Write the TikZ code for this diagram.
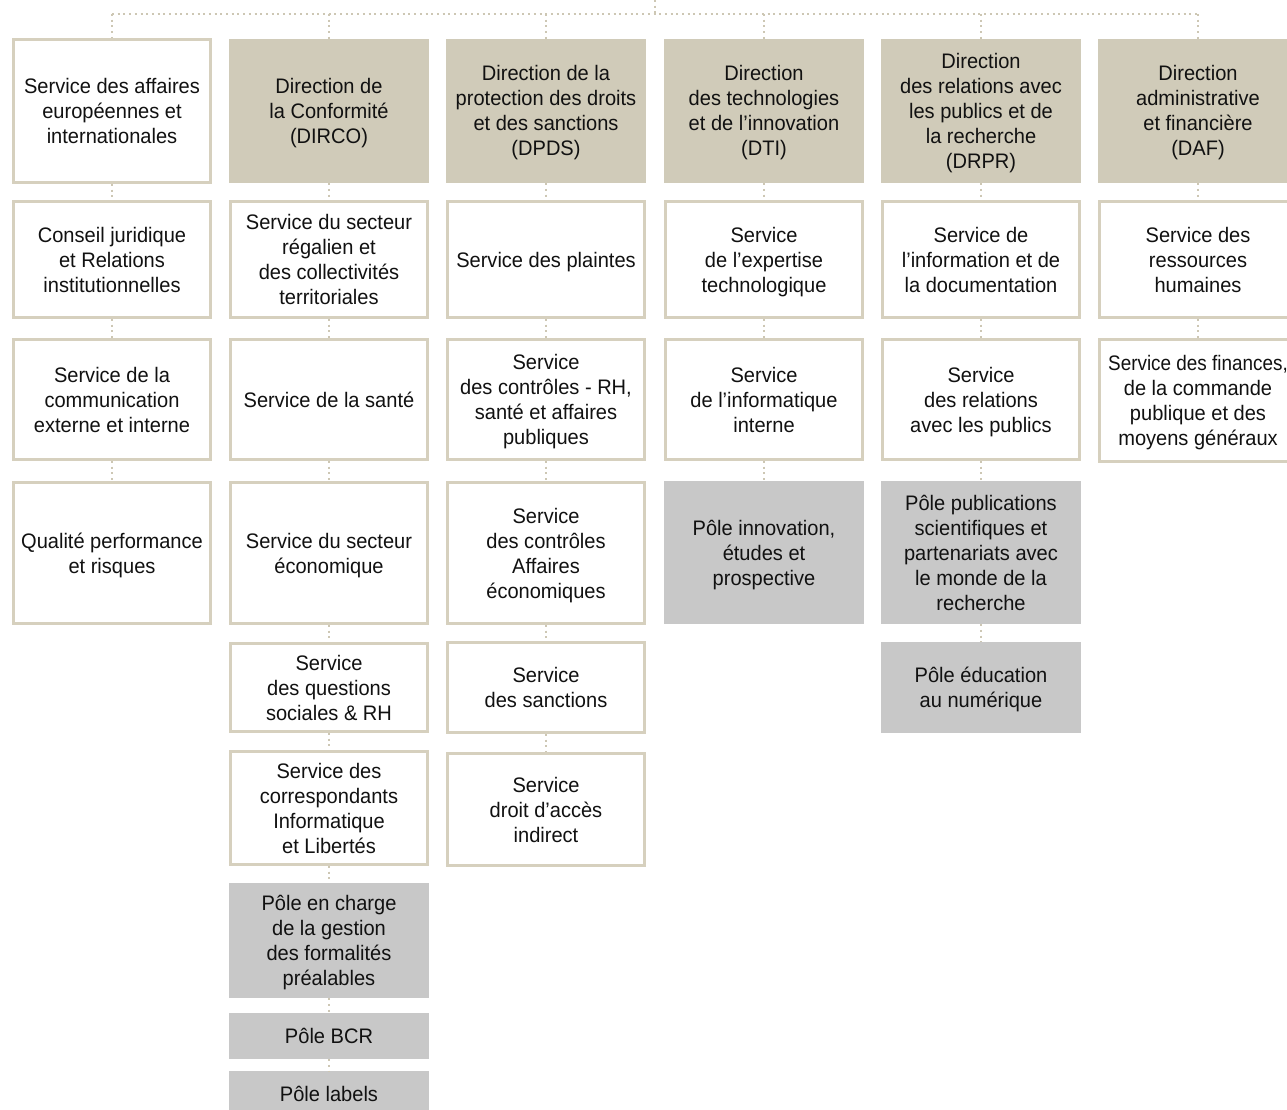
\documentclass[tikz,border=0pt]{standalone}
\usepackage{fontspec}
\setmainfont{Liberation Sans}[FakeStretch=0.955]
\newfontfamily\narrowfont{Liberation Sans}[FakeStretch=0.9]
\definecolor{beigeline}{RGB}{214,208,190}
\definecolor{beigefill}{RGB}{208,203,185}
\definecolor{grayfill}{RGB}{200,200,200}
\definecolor{dotc}{RGB}{205,199,180}
\definecolor{txt}{RGB}{17,17,17}
\newcommand{\tx}[1]{\raisebox{-2.5pt}[\height][\depth]{\begin{tabular}{@{}c@{}}#1\end{tabular}}}
\tikzset{
  base/.style={inner sep=0pt, align=center, text=txt, font=\fontsize{21}{25}\selectfont},
  wbox/.style={base, draw=beigeline, line width=3pt, fill=white},
  dbox/.style={base, fill=beigefill},
  gbox/.style={base, fill=grayfill},
  dotline/.style={draw=dotc, line width=2pt, dash pattern=on 2pt off 3.7pt},
}
\begin{document}
\begin{tikzpicture}[x=1pt,y=-1pt]
\path[use as bounding box, clip] (0,0) rectangle (1287,1110);
\fill[white] (0,0) rectangle (1287,1110);
% column 1
\node[wbox, minimum width=197, minimum height=143] (c1a) at (112,111) {\tx{Service des affaires\\européennes et\\internationales}};
\node[wbox, minimum width=197, minimum height=116] (c1b) at (112,259.5) {\tx{Conseil juridique\\et Relations\\institutionnelles}};
\node[wbox, minimum width=197, minimum height=120] (c1c) at (112,399.5) {\tx{Service de la\\communication\\externe et interne}};
\node[wbox, minimum width=197, minimum height=141] (c1d) at (112,553) {\tx{Qualité performance\\et risques}};
% column 2
\node[dbox, minimum width=200, minimum height=144] (c2a) at (329,111) {\tx{Direction de\\la Conformité\\(DIRCO)}};
\node[wbox, minimum width=197, minimum height=116] (c2b) at (329,259.5) {\tx{Service du secteur\\régalien et\\des collectivités\\territoriales}};
\node[wbox, minimum width=197, minimum height=120] (c2c) at (329,399.5) {\tx{Service de la santé}};
\node[wbox, minimum width=197, minimum height=141] (c2d) at (329,553) {\tx{Service du secteur\\économique}};
\node[wbox, minimum width=197, minimum height=88] (c2e) at (329,687.5) {\tx{Service\\des questions\\sociales \& RH}};
\node[wbox, minimum width=197, minimum height=113] (c2f) at (329,808) {\tx{Service des\\correspondants\\Informatique\\et Libertés}};
\node[gbox, minimum width=200, minimum height=115] (c2g) at (329,940.5) {\tx{Pôle en charge\\de la gestion\\des formalités\\préalables}};
\node[gbox, minimum width=200, minimum height=46] (c2h) at (329,1036) {\tx{Pôle BCR}};
\node[gbox, minimum width=200, minimum height=46] (c2i) at (329,1094) {\tx{Pôle labels}};
% column 3
\node[dbox, minimum width=200, minimum height=144] (c3a) at (546,111) {\tx{Direction de la\\protection des droits\\et des sanctions\\(DPDS)}};
\node[wbox, minimum width=197, minimum height=116] (c3b) at (546,259.5) {\tx{Service des plaintes}};
\node[wbox, minimum width=197, minimum height=120] (c3c) at (546,399.5) {\tx{Service\\des contrôles - RH,\\santé et affaires\\publiques}};
\node[wbox, minimum width=197, minimum height=141] (c3d) at (546,553) {\tx{Service\\des contrôles\\Affaires\\économiques}};
\node[wbox, minimum width=197, minimum height=90] (c3e) at (546,687.5) {\tx{Service\\des sanctions}};
\node[wbox, minimum width=197, minimum height=112] (c3f) at (546,809.5) {\tx{Service\\droit d’accès\\indirect}};
% column 4
\node[dbox, minimum width=200, minimum height=144] (c4a) at (764,111) {\tx{Direction\\des technologies\\et de l’innovation\\(DTI)}};
\node[wbox, minimum width=197, minimum height=116] (c4b) at (764,259.5) {\tx{Service\\de l’expertise\\technologique}};
\node[wbox, minimum width=197, minimum height=120] (c4c) at (764,399.5) {\tx{Service\\de l’informatique\\interne}};
\node[gbox, minimum width=200, minimum height=143] (c4d) at (764,552.5) {\tx{Pôle innovation,\\études et\\prospective}};
% column 5
\node[dbox, minimum width=200, minimum height=144] (c5a) at (981,111) {\tx{Direction\\des relations avec\\les publics et de\\la recherche\\(DRPR)}};
\node[wbox, minimum width=197, minimum height=116] (c5b) at (981,259.5) {\tx{Service de\\l’information et de\\la documentation}};
\node[wbox, minimum width=197, minimum height=120] (c5c) at (981,399.5) {\tx{Service\\des relations\\avec les publics}};
\node[gbox, minimum width=200, minimum height=143] (c5d) at (981,552.5) {\tx{Pôle publications\\scientifiques et\\partenariats avec\\le monde de la\\recherche}};
\node[gbox, minimum width=200, minimum height=91] (c5e) at (981,687.5) {\tx{Pôle éducation\\au numérique}};
% column 6
\node[dbox, minimum width=200, minimum height=144] (c6a) at (1198,111) {\tx{Direction\\administrative\\et financière\\(DAF)}};
\node[wbox, minimum width=197, minimum height=116] (c6b) at (1198,259.5) {\tx{Service des\\ressources\\humaines}};
\node[wbox, minimum width=197, minimum height=122] (c6c) at (1198,400.5) {\tx{{\narrowfont Service des finances,}\\de la commande\\publique et des\\moyens généraux}};
% top bus
\coordinate (top) at (655,0);
\coordinate (bus) at (655,14);
\draw[dotline] (top) -- (bus);
\draw[dotline] (c1a.north |- bus) -- (c6a.north |- bus);
\foreach \n in {c1a,c2a,c3a,c4a,c5a,c6a} {\draw[dotline] (\n.north |- bus) -- (\n.north);}
% vertical connectors
\foreach \a/\b in {c1a/c1b,c1b/c1c,c1c/c1d,
  c2a/c2b,c2b/c2c,c2c/c2d,c2d/c2e,c2e/c2f,c2f/c2g,c2g/c2h,c2h/c2i,
  c3a/c3b,c3b/c3c,c3c/c3d,c3d/c3e,c3e/c3f,
  c4a/c4b,c4b/c4c,c4c/c4d,
  c5a/c5b,c5b/c5c,c5c/c5d,c5d/c5e,
  c6a/c6b,c6b/c6c} {\draw[dotline] (\a.south) -- (\b.north);}
\end{tikzpicture}
\end{document}
